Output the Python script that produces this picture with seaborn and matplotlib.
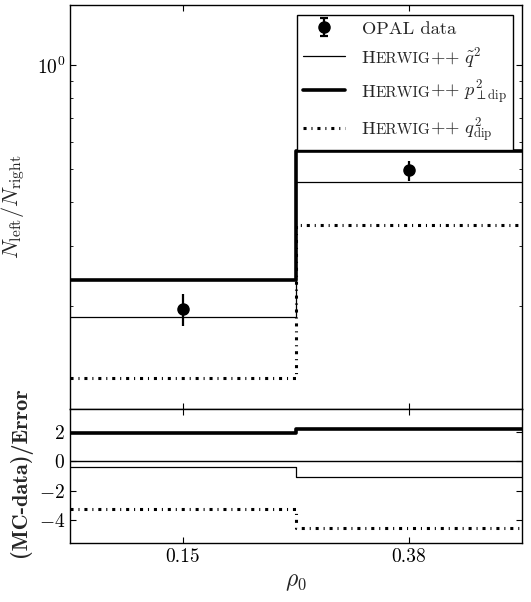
import numpy as np
import seaborn as sns
import matplotlib.pyplot as plt
from matplotlib.ticker import NullFormatter
from matplotlib.offsetbox import TextArea, HPacker

# bins (equal width, labelled by their rho_0 value)
bin_labels = ['0.15', '0.38']
bin_edges = [0, 1, 2]
bin_centres = [0.5, 1.5]

# OPAL data
data_vals = [0.197, 0.495]
data_errs = [0.021, 0.033]

# Herwig++ predictions
mc_qtilde = [0.187, 0.457]
mc_ptdip = [0.239, 0.565]
mc_qdip = [0.124, 0.345]

# (MC-data)/Error
ratio_qtilde = [-0.41, -1.09]
ratio_ptdip = [1.98, 2.20]
ratio_qdip = [-3.26, -4.55]

shower_vars = [r'$\tilde{q}^2$', r'$p^2_{\perp\rm dip}$', r'$q^2_{\rm dip}$']
labels = ['OPAL data'] + ['HERWIG++ ' + v for v in shower_vars]

sns.set_style('ticks')
plt.rcParams.update({
    'font.family': 'cmr10',
    'mathtext.fontset': 'cm',
    'axes.formatter.use_mathtext': True,
    'font.size': 14,
    'axes.edgecolor': 'black',
    'axes.linewidth': 1.0,
    'xtick.color': 'black', 'ytick.color': 'black',
    'xtick.direction': 'in', 'ytick.direction': 'in',
    'xtick.top': True, 'ytick.right': True,
    'xtick.major.size': 4, 'ytick.major.size': 4,
    'xtick.minor.size': 2, 'ytick.minor.size': 2,
    'xtick.minor.visible': False,
})

styles = {
    'qtilde': dict(lw=0.9, linestyle='-'),
    'ptdip': dict(lw=2.6, linestyle='-'),
    'qdip': dict(lw=2.2, linestyle=(0, (1.0, 1.6, 0.35, 1.6))),
}


def step(ax, vals, style):
    sns.lineplot(x=bin_edges, y=list(vals) + [vals[-1]], drawstyle='steps-post',
                 color='black', ax=ax, **styles[style])


fig = plt.figure(figsize=(5.31, 6.02), dpi=100)
ax_top = fig.add_axes([0.1318, 0.3206, 0.8512, 0.6711])
ax_bot = fig.add_axes([0.1318, 0.098, 0.8512, 0.2226], sharex=ax_top)

# top panel
ax_top.set_yscale('log')
step(ax_top, mc_qtilde, 'qtilde')
step(ax_top, mc_ptdip, 'ptdip')
step(ax_top, mc_qdip, 'qdip')
ax_top.errorbar(bin_centres, data_vals, yerr=data_errs, fmt='o', color='black',
                ms=8, elinewidth=1.6, capsize=0)
# legend entry for the data (with caps, as in the original)
data_proxy = ax_top.errorbar([np.nan], [np.nan], yerr=[np.nan], fmt='o', color='black',
                             ms=8, elinewidth=1.6, capsize=3, capthick=1.6)
ax_top.set_ylim(0.101, 1.49)
ax_top.yaxis.set_minor_formatter(NullFormatter())
ax_top.tick_params(labelbottom=False)
ax_top.set_ylabel(r'$N_{\rm left}/N_{\rm right}$', fontsize=16)
ax_top.yaxis.set_label_coords(-0.095, 0.5)

# legend: data first, then the three predictions
leg_fs = 13.3
leg_handles = [data_proxy] + ax_top.lines[:3]
leg = ax_top.legend(leg_handles, labels, loc='upper right', bbox_to_anchor=(0.98, 0.975),
                    borderaxespad=0, fancybox=False, edgecolor='black', framealpha=1,
                    handlelength=2.3, handletextpad=0.9, labelspacing=0.45,
                    borderpad=0.3, fontsize=leg_fs)
leg.get_frame().set_linewidth(1.0)

# small-caps "Herwig++": big H, smaller ERWIG
rows = [r for col in leg._legend_handle_box.get_children() for r in col.get_children()]
for row, var in zip(rows[1:], shower_vars):
    parts = [TextArea('H', textprops=dict(size=leg_fs)),
             TextArea('ERWIG', textprops=dict(size=11)),
             TextArea('++ ' + var, textprops=dict(size=leg_fs))]
    box = HPacker(children=parts, align='baseline', pad=0, sep=0)
    box.set_figure(fig)
    row._children[1] = box

# ratio panel
ax_bot.axhline(0, color='black', lw=1.0)
step(ax_bot, ratio_qtilde, 'qtilde')
step(ax_bot, ratio_ptdip, 'ptdip')
step(ax_bot, ratio_qdip, 'qdip')
ax_bot.set_xlim(0, 2)
ax_bot.set_ylim(-5.6, 3.6)
ax_bot.set_yticks([-4, -2, 0, 2])
ax_bot.set_xticks(bin_centres, bin_labels)
ax_bot.set_xlabel(r'$\rho_0$', fontsize=17)
ax_bot.set_ylabel('(MC-data)/Error', fontsize=16, fontfamily='cmb10')
ax_bot.yaxis.set_label_coords(-0.085, 0.53)

fig.savefig('out.png', dpi=100)
